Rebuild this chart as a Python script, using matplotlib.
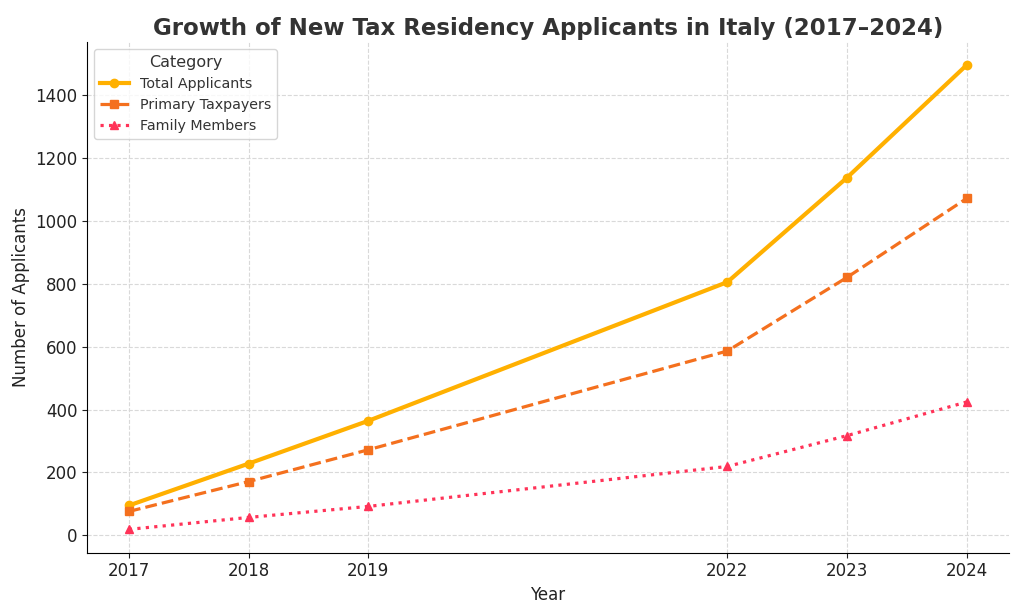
import matplotlib
matplotlib.use("Agg")
import matplotlib.pyplot as plt

plt.rcParams["font.family"] = ["DejaVu Sans"]

years = [2017, 2018, 2019, 2022, 2023, 2024]
total_applicants = [95, 228, 364, 805, 1137, 1495]
primary_taxpayers = [76, 171, 272, 586, 820, 1071]
family_members = [19, 57, 92, 219, 317, 424]

fig, ax = plt.subplots(figsize=(10.24, 6.14), dpi=100)

ax.plot(years, total_applicants, color="#FFB000", linestyle="-", linewidth=3,
        marker="o", markersize=6, label="Total Applicants")
ax.plot(years, primary_taxpayers, color="#F4701E", linestyle="--", linewidth=2.3,
        marker="s", markersize=6, label="Primary Taxpayers")
ax.plot(years, family_members, color="#FF3358", linestyle=":", linewidth=2.3,
        marker="^", markersize=6, label="Family Members")

ax.set_xticks(years)
ax.set_xticklabels([str(y) for y in years])
ax.tick_params(axis="both", labelsize=12, colors="#222222")
ax.set_title("Growth of New Tax Residency Applicants in Italy (2017–2024)",
             fontsize=16.5, fontweight="bold", color="#333333", pad=5)
ax.set_xlabel("Year", fontsize=12, color="#222222")
ax.set_ylabel("Number of Applicants", fontsize=12, color="#222222")
ax.grid(True, linestyle="--", color="#d9d9d9", linewidth=0.8)
ax.spines["top"].set_visible(False)
ax.spines["right"].set_visible(False)
leg = ax.legend(title="Category", loc="upper left", fontsize=10.3, title_fontsize=11.5)
leg.get_title().set_color("#333333")
for t in leg.get_texts():
    t.set_color("#333333")

fig.subplots_adjust(left=0.085, right=0.985, top=0.932, bottom=0.1)
fig.savefig("out.png", dpi=100)
